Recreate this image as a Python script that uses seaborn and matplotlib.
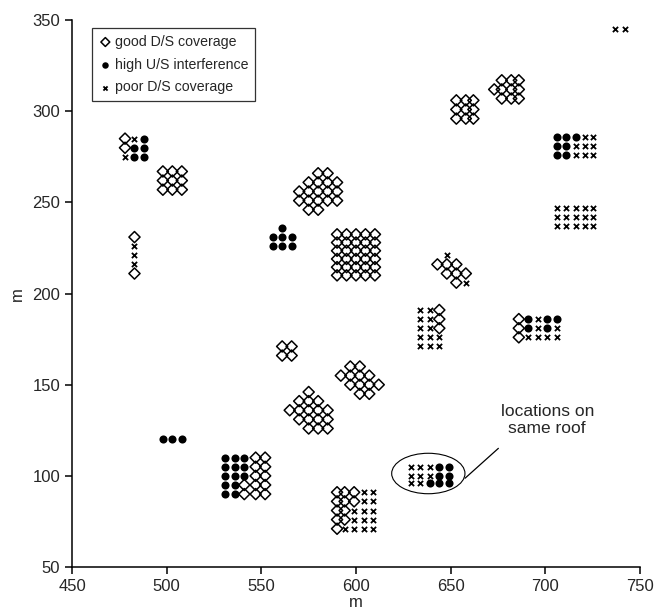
#!/usr/bin/env python3

import matplotlib
matplotlib.use('Agg')
import matplotlib.pyplot as plt
import seaborn as sns
from matplotlib.patches import Ellipse

# good D/S coverage (diamonds)
good_x = [478, 478,
          498, 503, 508, 498, 503, 508, 498, 503, 508,
          483, 483,
          580, 585, 575, 580, 585, 590, 570, 575, 580, 585, 590,
          570, 575, 580, 585, 590, 575, 580,
          590, 595, 600, 605, 610, 590, 595, 600, 605, 610,
          590, 595, 600, 605, 610, 590, 595, 600, 605, 610,
          590, 595, 600, 605, 610, 590, 595, 600, 605, 610,
          653, 658, 662, 653, 658, 662, 653, 658, 662,
          677, 682, 686, 673, 677, 682, 686, 677, 682, 686,
          643, 648, 653, 648, 653, 658, 653,
          644, 644, 644,
          686, 686, 686,
          561, 566, 561, 566,
          575, 570, 575, 580, 565, 570, 575, 580, 585,
          570, 575, 580, 585, 575, 580, 585,
          597, 602, 592, 597, 602, 607, 597, 602, 607, 612, 602, 607,
          547, 552, 547, 552, 547, 552, 547, 552, 547, 552, 541, 541,
          590, 594, 599, 590, 594, 599, 590, 594, 590, 594, 590]
good_y = [285, 280,
          267, 267, 267, 262, 262, 262, 257, 257, 257,
          231, 211,
          266, 266, 261, 261, 261, 261, 256, 256, 256, 256, 256,
          251, 251, 251, 251, 251, 246, 246,
          232.5, 232.5, 232.5, 232.5, 232.5, 228, 228, 228, 228, 228,
          223.5, 223.5, 223.5, 223.5, 223.5, 219, 219, 219, 219, 219,
          214.5, 214.5, 214.5, 214.5, 214.5, 210, 210, 210, 210, 210,
          306, 306, 306, 301, 301, 301, 296, 296, 296,
          317, 317, 317, 312, 312, 312, 312, 307, 307, 307,
          216, 216, 216, 211, 211, 211, 206,
          191, 186, 181,
          186, 181, 176,
          171, 171, 166, 166,
          146, 141, 141, 141, 136, 136, 136, 136, 136,
          131, 131, 131, 131, 126, 126, 126,
          160, 160, 155, 155, 155, 155, 150, 150, 150, 150, 145, 145,
          110, 110, 105, 105, 100, 100, 95, 95, 90, 90, 95, 90,
          91, 91, 91, 86, 86, 86, 81, 81, 76, 76, 71]

# high U/S interference (dots)
interf_x = [488, 483, 488, 483, 488,
            561, 556, 561, 566, 556, 561, 566,
            706, 711, 716, 706, 711, 706, 711,
            691, 701, 706, 691, 701,
            498, 503, 508,
            531, 536, 531, 536, 531, 536, 531, 536, 531, 536, 541, 541, 541,
            644, 649, 644, 649, 639, 644, 649]
interf_y = [285, 280, 280, 275, 275,
            236, 231, 231, 231, 226, 226, 226,
            286, 286, 286, 281, 281, 276, 276,
            186, 186, 186, 181, 181,
            120, 120, 120,
            110, 110, 105, 105, 100, 100, 95, 95, 90, 90, 110, 105, 100,
            105, 105, 100, 100, 96, 96, 96]

# poor D/S coverage (crosses)
poor_x = [483, 478,
          483, 483, 483,
          721, 725, 716, 721, 725, 716, 721, 725,
          706, 711, 716, 721, 725, 706, 711, 716, 721, 725, 706, 711, 716, 721, 725,
          648, 658,
          634, 639, 634, 639, 634, 639, 634, 639, 644, 634, 639, 644,
          696, 696, 706, 691, 696, 701, 706,
          604, 609, 604, 609, 599, 604, 609, 599, 604, 609, 594, 599, 604, 609,
          629, 634, 639, 629, 634, 639, 629, 634,
          737, 742]
poor_y = [285, 275,
          226, 221, 216,
          286, 286, 281, 281, 281, 276, 276, 276,
          247, 247, 247, 247, 247, 242, 242, 242, 242, 242, 237, 237, 237, 237, 237,
          221, 206,
          191, 191, 186, 186, 181, 181, 176, 176, 176, 171, 171, 171,
          186, 181, 181, 176, 176, 176, 176,
          91, 91, 86, 86, 81, 81, 81, 76, 76, 76, 71, 71, 71, 71,
          105, 105, 105, 100, 100, 100, 96, 96,
          345, 345]

labels = ['good D/S coverage', 'high U/S interference', 'poor D/S coverage']
note = 'locations on\nsame roof'

sns.set_style('ticks')
plt.rcParams['font.family'] = ['Liberation Sans', 'DejaVu Sans']

fig = plt.figure(figsize=(6.63, 6.11), dpi=100)
ax = fig.add_axes([0.1086, 0.072, 0.8567, 0.895])

sns.scatterplot(x=good_x, y=good_y, marker='D', s=32, facecolor='none',
                edgecolor='black', linewidth=1.1, label=labels[0], ax=ax)
sns.scatterplot(x=interf_x, y=interf_y, marker='o', s=34, color='black',
                edgecolor='black', linewidth=0, label=labels[1], ax=ax)
sns.scatterplot(x=poor_x, y=poor_y, marker='x', s=14, color='black',
                linewidth=1.3, label=labels[2], ax=ax)

# "same roof" group
ax.add_patch(Ellipse((638.2, 101.3), 38.7, 22.2, fill=False, lw=0.8, color='black'))
ax.plot([657.6, 675.2], [98.7, 115.1], color='black', lw=0.9)
ax.text(701, 130.5, note, ha='center', va='center', fontsize=12.5, linespacing=1.15)

ax.set_xlim(450, 750)
ax.set_ylim(50, 350)
ax.set_xticks(range(450, 751, 50))
ax.set_yticks(range(50, 351, 50))
ax.set_xlabel('m', fontsize=12, labelpad=1)
ax.set_ylabel('m', fontsize=12, labelpad=5)
ax.tick_params(labelsize=12, width=1.1, length=5, color='black')
sns.despine(ax=ax)
for sp in ['left', 'bottom']:
    ax.spines[sp].set_linewidth(1.1)
    ax.spines[sp].set_color('black')

leg = ax.legend(loc='upper left', bbox_to_anchor=(0.035, 0.985), borderaxespad=0,
                frameon=True, fancybox=False, fontsize=10.2, handletextpad=0.2,
                handlelength=1.0, borderpad=0.45, labelspacing=0.62, markerscale=0.8)
leg.get_frame().set_edgecolor('black')
leg.get_frame().set_linewidth(0.9)

plt.savefig('out.png', dpi=100)
plt.close()
